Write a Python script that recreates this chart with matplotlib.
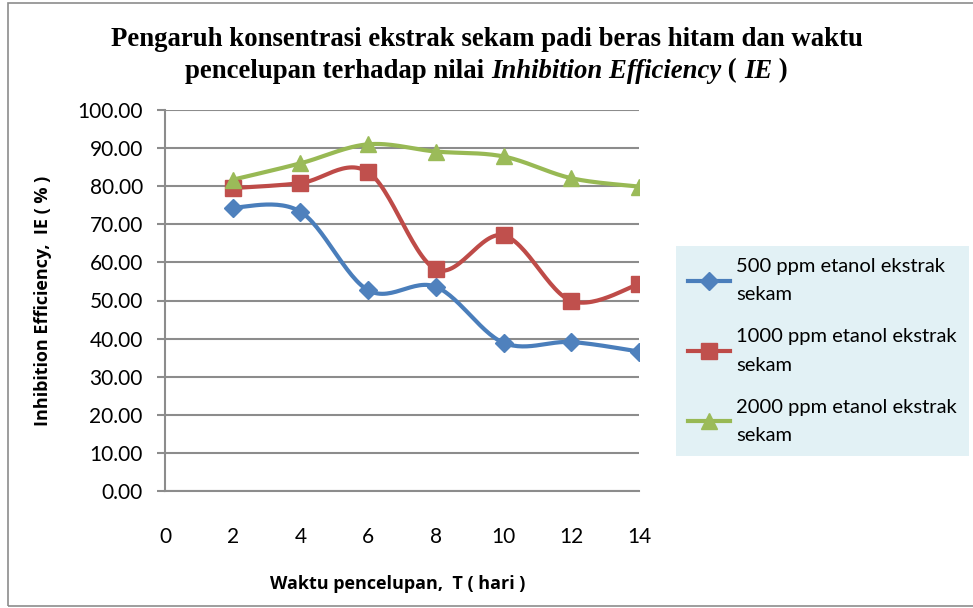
import matplotlib
matplotlib.use('Agg')
import matplotlib.pyplot as plt
import numpy as np
from matplotlib.patches import Rectangle
from matplotlib.lines import Line2D

# data
days = [2, 4, 6, 8, 10, 12, 14]
ie_500 = [74.4, 73.3, 52.7, 53.6, 38.9, 39.1, 36.6]
ie_1000 = [79.5, 80.8, 83.7, 58.2, 67.1, 49.9, 54.3]
ie_2000 = [81.7, 86.0, 91.0, 89.1, 87.8, 82.1, 79.9]
labels = ['500 ppm etanol ekstrak\nsekam',
          '1000 ppm etanol ekstrak\nsekam',
          '2000 ppm etanol ekstrak\nsekam']


def smooth(x, y, n=30):
    # catmull-rom style smoothing like excel's "smoothed line"
    x = np.asarray(x, float)
    y = np.asarray(y, float)
    px = np.concatenate([[x[0]], x, [x[-1]]])
    py = np.concatenate([[y[0]], y, [y[-1]]])
    xs, ys = [], []
    t = np.linspace(0, 1, n)
    for i in range(1, len(px) - 2):
        p0, p1, p2, p3 = (np.array([px[j], py[j]]) for j in (i - 1, i, i + 1, i + 2))
        c1 = p1 + (p2 - p0) / 6
        c2 = p2 - (p3 - p1) / 6
        b = ((1 - t) ** 3)[:, None] * p1 + (3 * (1 - t) ** 2 * t)[:, None] * c1 \
            + (3 * (1 - t) * t ** 2)[:, None] * c2 + (t ** 3)[:, None] * p2
        xs.extend(b[:, 0])
        ys.extend(b[:, 1])
    return xs, ys


fig = plt.figure(figsize=(9.73, 6.08), dpi=100)
W, H = 973, 608
ax = fig.add_axes([165 / W, 1 - 491 / H, 474 / W, 381 / H])

series = [
    (ie_500, '#4A7EBB', '#4F81BD', 'D', 9),
    (ie_1000, '#BE4B48', '#C0504D', 's', 11),
    (ie_2000, '#98B954', '#9BBB59', '^', 11),
]
handles = []
for (vals, lc, mc, mk, ms) in series:
    sx, sy = smooth(days, vals)
    ax.plot(sx, sy, color=lc, lw=3, solid_capstyle='round', zorder=3)
    ax.plot(days, vals, ls='none', marker=mk, ms=ms, color=mc, mec=mc, zorder=4)
    handles.append(Line2D([], [], color=lc, lw=3, marker=mk, ms=ms, mfc=mc, mec=mc))

ax.set_xlim(0, 14)
ax.set_ylim(0, 100)
ax.set_xticks(range(0, 15, 2))
ax.set_yticks(np.arange(0, 101, 10))
ax.set_yticklabels(['%.2f' % v for v in np.arange(0, 101, 10)])
ax.yaxis.grid(True, color='#8C8C8C', lw=1.5)
ax.set_axisbelow(True)
for s in ['top', 'right']:
    ax.spines[s].set_visible(False)
for s in ['left', 'bottom']:
    ax.spines[s].set_color('#8C8C8C')
    ax.spines[s].set_linewidth(1.5)
ax.tick_params(axis='y', length=6, width=1.5, color='#8C8C8C', labelsize=15, pad=10)
ax.tick_params(axis='x', length=0, labelsize=15, pad=26)
for lab in ax.get_xticklabels() + ax.get_yticklabels():
    lab.set_fontfamily('Lato')

lfont = dict(fontfamily='Open Sans', fontweight='bold', fontsize=13)
ax.set_xlabel('Waktu pencelupan,  T ( hari )', **lfont)
ax.xaxis.set_label_coords(0.49, -0.22)
ax.set_ylabel('Inhibition Efficiency,  IE ( % )', **lfont)
ax.yaxis.set_label_coords(-0.238, 0.5)

leg = fig.legend(handles, labels, loc='upper left',
                 bbox_to_anchor=(676 / W, 1 - 246 / H), frameon=True,
                 prop={'family': 'Lato', 'size': 14.5}, handlelength=2.1,
                 labelspacing=1.25, borderpad=0.6, handletextpad=0.3,
                 borderaxespad=0)
for t in leg.get_texts():
    t.set_linespacing(1.8)
leg.get_frame().set_facecolor('#DBEEF3')
leg.get_frame().set_edgecolor('none')
leg.get_frame().set_boxstyle('square', pad=0)

# title, line 1 plain bold, line 2 with italic parts
tfont = dict(family='Liberation Serif', weight='bold', size=19.3)
fig.text(0.5, 1 - 40 / H, 'Pengaruh konsentrasi ekstrak sekam padi beras hitam dan waktu',
         ha='center', va='center', **tfont)
parts = [('pencelupan terhadap nilai ', 'normal'), ('Inhibition Efficiency', 'italic'),
         (' ( ', 'normal'), ('IE', 'italic'), (' )', 'normal')]
fig.canvas.draw()
r = fig.canvas.get_renderer()
texts = []
for s, st in parts:
    t = fig.text(0, 1 - 71 / H, s, ha='left', va='center', style=st, **tfont)
    texts.append(t)
widths = [t.get_window_extent(r).width for t in texts]
x0 = (W * 0.5 - sum(widths) / 2) / W
for t, w in zip(texts, widths):
    t.set_x(x0)
    x0 += w / W

fig.patches.append(Rectangle((8 / W, 2 / H), 1.2, 1 - 5 / H, transform=fig.transFigure,
                             fill=False, edgecolor='#8C8C8C', lw=1.2))

fig.savefig('out.png', dpi=100)
